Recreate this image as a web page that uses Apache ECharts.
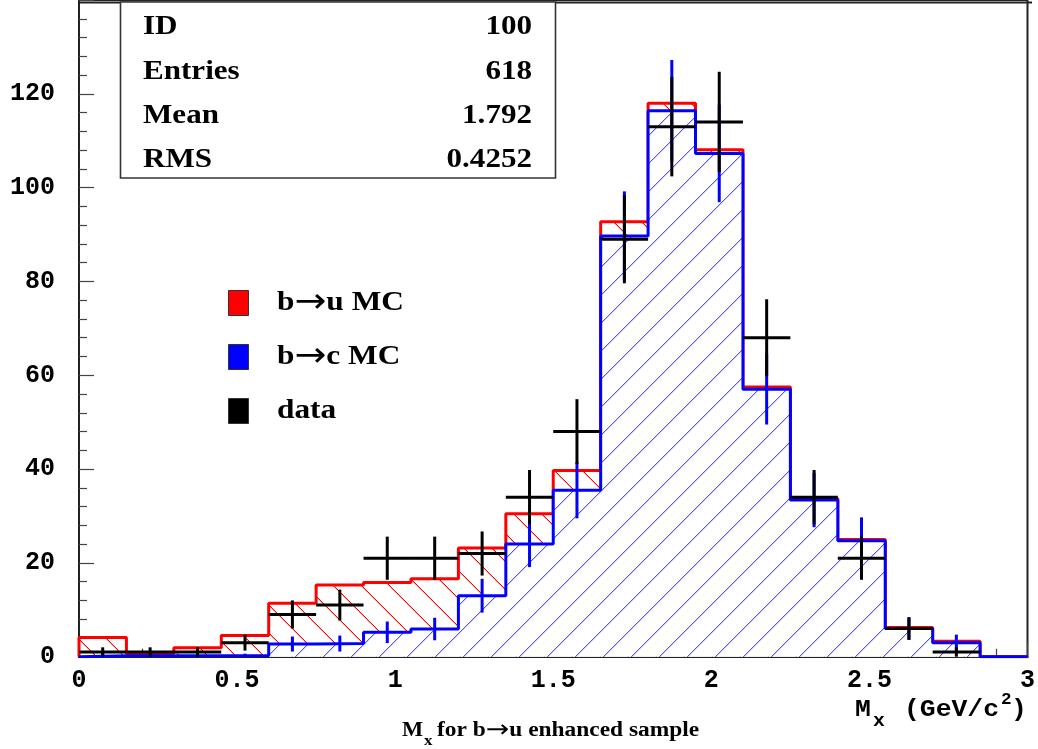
<!DOCTYPE html>
<html><head><meta charset="utf-8">
<script src="https://cdn.jsdelivr.net/npm/echarts@6/dist/echarts.min.js"></script>
<style>html,body{margin:0;padding:0;background:#fff}#c{width:1038px;height:749px}</style>
</head><body><div id="c"></div>
<script>
// ---------- data ----------
const binLow   = [0,0.15,0.3,0.45,0.6,0.75,0.9,1.05,1.2,1.35,1.5,1.65,1.8,1.95,2.1,2.25,2.4,2.55,2.7,2.85];
const binWidth = 0.15;
// b->u MC (stacked on top of b->c), red
const buMC  = [4.1,0.7,1.9,4.5,11.4,15.3,15.8,16.6,23.2,30.5,39.7,92.7,118.0,108.1,57.5,33.7,25.0,6.2,3.3,0];
// b->c MC, blue
const bcMC  = [0.2,0.2,0.2,0.2,2.7,2.8,5.2,5.9,13.0,24.0,35.5,89.7,116.4,107.3,57.0,33.4,24.7,6.0,3.0,0];
const bcErr = [0.45,0.45,0.45,0.45,1.6,1.7,2.3,2.4,3.6,4.9,6.0,9.5,10.8,10.4,7.5,5.8,5.0,2.4,1.7,0];
// data
const dataVals = [1,1,1,3,9,11,21,21,22,34,48,89,113,114,68,34,21,6,1,0];
const dataErr  = [1,1,1,1.7,3,3.3,4.6,4.6,4.7,5.8,6.9,9.4,10.6,10.7,8.2,5.8,4.6,2.4,1,0];
// statistics box
const statNames  = ['ID','Entries','Mean','RMS'];
const statValues = ['100','618','1.792','0.4252'];
const seriesNames = ['b\u2192u MC','b\u2192c MC','data'];
const seriesColors = ['#ff0000','#0000ff','#000000'];

// ---------- helpers ----------
const F_SERIF = '"Liberation Serif","Times New Roman",serif';
const F_MONO  = '"Liberation Mono","Courier New",monospace';
const F_ARROW = '"DejaVu Sans",sans-serif';

function hatch(rgb, dir, a1, a2) {
  const s = 28, c = document.createElement('canvas');
  c.width = s; c.height = s;
  const g = c.getContext('2d');
  g.fillStyle = '#ffffff'; g.fillRect(0, 0, s, s);
  for (let i = 0; i < s; i++) {
    const y = dir === '/' ? s - 1 - i : i;
    g.fillStyle = 'rgba(' + rgb + ',' + a1 + ')';
    g.fillRect(i, y, 1, 1);
    g.fillStyle = 'rgba(' + rgb + ',' + a2 + ')';
    g.fillRect(i, (y + 1) % s, 1, 1);
  }
  return c;
}
function stepData(vals) {
  const d = [[binLow[0], 0]];
  vals.forEach((v, i) => d.push([binLow[i], v]));
  const xEnd = binLow[binLow.length-1] + binWidth;
  d.push([xEnd, vals[vals.length-1]]);
  d.push([xEnd, 0]);
  return d;
}
function renderCross(params, api) {
  const xl = api.value(0), xh = api.value(1), y = api.value(2), e = api.value(3);
  const xc = (xl + xh) / 2;
  const a = api.coord([xl, y]), b = api.coord([xh, y]);
  const t = api.coord([xc, y + e]), u = api.coord([xc, Math.max(0, y - e)]);
  return {type:'group', children:[
    {type:'line', shape:{x1:a[0], y1:a[1], x2:b[0], y2:b[1]}, style:{stroke:'#000', lineWidth:3}},
    {type:'line', shape:{x1:t[0], y1:t[1], x2:u[0], y2:u[1]}, style:{stroke:'#000', lineWidth:3}}
  ]};
}
function renderErr(params, api) {
  const xl = api.value(0), xh = api.value(1), y = api.value(2), e = api.value(3);
  const xc = (xl + xh) / 2;
  const t = api.coord([xc, y + e]), u = api.coord([xc, Math.max(0, y - e)]);
  return {type:'line', shape:{x1:t[0], y1:t[1], x2:u[0], y2:u[1]}, style:{stroke:'#0000ff', lineWidth:3}};
}
function richArrow(text, size) {
  // split on the arrow so it can use a font with a long arrow glyph
  const parts = text.split('\u2192');
  let s = '{t|' + parts[0] + '}';
  for (let i = 1; i < parts.length; i++) s += '{a|\u2192}{t|' + parts[i] + '}';
  return {text:s, rich:{
    t:{fontFamily:F_SERIF, fontWeight:'bold', fontSize:size, fill:'#000'},
    a:{fontFamily:F_ARROW, fontWeight:'normal', fontSize:Math.round(size*1.22), fill:'#000'}
  }};
}
function txt(x, y, text, size, o) {
  o = o || {};
  const st = {fontFamily:o.mono ? F_MONO : F_SERIF, fontWeight:'bold', fontSize:size,
              fill:'#000', align:o.align || 'left', verticalAlign:'middle'};
  if (text.indexOf('\u2192') >= 0) Object.assign(st, richArrow(text, size)); else st.text = text;
  return {type:'text', x:x, y:y, scaleX:o.sx || 1.11, z:100, style:st};
}

// ---------- graphics ----------
const rowsY = [27, 71.8, 116, 159.8];
const graphics = [
  {type:'line', z:90, shape:{x1:79, y1:2.5, x2:1032, y2:2.5}, style:{stroke:'#222', lineWidth:2}},
  {type:'rect', z:90, shape:{x:120.5, y:2, width:435, height:176}, style:{fill:'#fff', stroke:'#333', lineWidth:1.6}}
];
statNames.forEach((n, i) => graphics.push(txt(143, rowsY[i], n, 28)));
statValues.forEach((v, i) => graphics.push(txt(532, rowsY[i], v, 28, {align:'right'})));
// legend (drawn as graphic so the text can match the stretched lettering)
const legY = [303, 357, 411];
seriesNames.forEach((n, i) => {
  graphics.push({type:'rect', z:100, shape:{x:228.5, y:legY[i]-12.5, width:20, height:25},
                 style:{fill:seriesColors[i], stroke:'#333', lineWidth:1}});
  graphics.push(txt(277, legY[i], n, 28, {sx:1.12}));
});
// x-axis title
graphics.push(txt(855, 710, 'M', 24, {mono:true, sx:1.1}));
graphics.push(txt(873, 721, 'x', 18, {mono:true, sx:1.1}));
graphics.push(txt(904, 710, '(GeV/c', 24, {mono:true, sx:1.1}));
graphics.push(txt(1001, 700, '2', 16, {mono:true, sx:1.1}));
graphics.push(txt(1011, 710, ')', 24, {mono:true, sx:1.1}));
// caption
graphics.push(txt(402, 730.5, 'M', 20, {sx:1.12}));
graphics.push(txt(424, 741, 'x', 15, {sx:1.12}));
graphics.push(txt(437, 730.5, 'for b\u2192u enhanced sample', 20, {sx:1.17}));

// ---------- chart ----------
const chart = echarts.init(document.getElementById('c'), null, {renderer:'canvas'});
const tickStyle = {color:'#444', width:1.2};
chart.setOption({
  animation:false,
  backgroundColor:'#fff',
  grid:{left:79, right:6.3, top:-3.7, bottom:92.3, show:true, borderColor:'#222', borderWidth:2, backgroundColor:'transparent'},
  xAxis:{
    type:'value', min:0, max:3, interval:0.5,
    axisLine:{show:true, onZero:false, lineStyle:{color:'#222', width:2}},
    axisTick:{show:true, inside:true, length:15, lineStyle:tickStyle},
    minorTick:{show:true, splitNumber:5, length:8, lineStyle:tickStyle},
    splitLine:{show:false}, minorSplitLine:{show:false},
    axisLabel:{margin:12, color:'#000', fontFamily:F_MONO, fontWeight:'bold', fontSize:25, hideOverlap:false}
  },
  yAxis:{
    type:'value', min:0, max:140, interval:20,
    axisLine:{show:true, onZero:false, lineStyle:{color:'#222', width:2}},
    axisTick:{show:true, inside:true, length:15, lineStyle:tickStyle},
    minorTick:{show:true, splitNumber:5, length:8, lineStyle:tickStyle},
    splitLine:{show:false}, minorSplitLine:{show:false},
    axisLabel:{margin:24, color:'#000', fontFamily:F_MONO, fontWeight:'bold', fontSize:25, showMaxLabel:false}
  },
  series:[
    {name:seriesNames[0], type:'line', step:'end', symbol:'none', z:2, data:stepData(buMC),
     itemStyle:{color:seriesColors[0]}, lineStyle:{color:seriesColors[0], width:3},
     areaStyle:{color:{image:hatch('255,0,0','\\', 1, 0.35), repeat:'repeat'}, opacity:1}},
    {name:seriesNames[1], type:'line', step:'end', symbol:'none', z:3, data:stepData(bcMC),
     itemStyle:{color:seriesColors[1]}, lineStyle:{color:seriesColors[1], width:3},
     areaStyle:{color:{image:hatch('40,40,255','/', 0.8, 0.25), repeat:'repeat'}, opacity:1}},
    {name:'b\u2192c MC errors', type:'custom', z:4, renderItem:renderErr, encode:{x:[0,1], y:2},
     itemStyle:{color:seriesColors[1]},
     data:bcMC.map((v, i) => [binLow[i], binLow[i] + binWidth, v, bcErr[i]]).filter(d => d[2] > 0)},
    {name:seriesNames[2], type:'custom', z:5, renderItem:renderCross, encode:{x:[0,1], y:2},
     itemStyle:{color:seriesColors[2]},
     data:dataVals.map((v, i) => [binLow[i], binLow[i] + binWidth, v, dataErr[i]]).filter(d => d[2] > 0)}
  ],
  graphic:graphics
});
</script>
</body></html>
